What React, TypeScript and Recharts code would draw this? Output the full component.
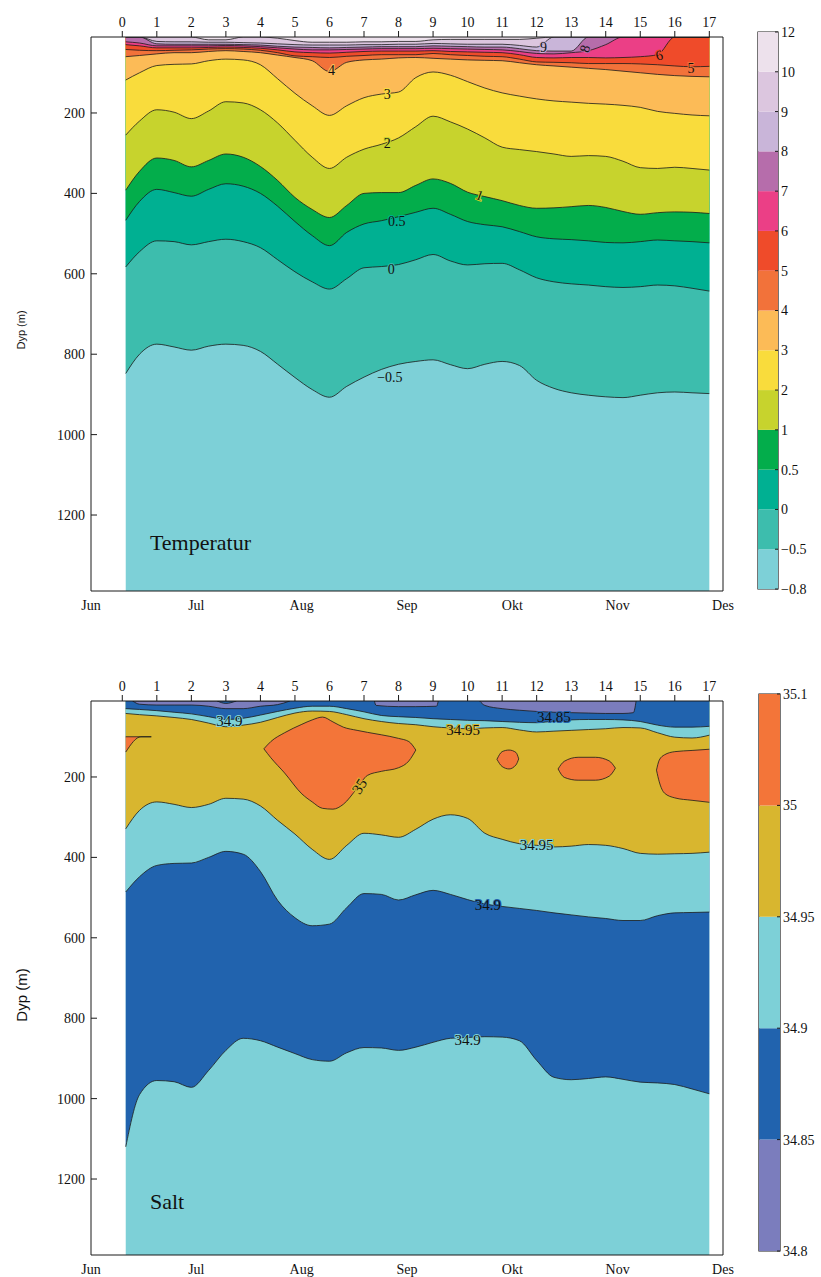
import React from 'react';
import {
  ComposedChart,
  Area,
  XAxis,
  YAxis,
  ReferenceDot,
  ReferenceArea,
  BarChart,
  Bar,
} from 'recharts';

const FONT = '"Liberation Serif", "Times New Roman", Times, serif';
const SANS = '"Liberation Sans", Arial, sans-serif';
const INK = '#1a1a1a';

// stations along the section (top axis) and month labels (bottom axis)
const stations = [
  0.1, 0.5, 1, 1.5, 2, 2.5, 3, 3.5, 4, 4.5, 5, 5.5, 6, 6.5, 7, 7.5, 8, 8.5,
  9, 9.5, 10, 10.5, 11, 11.5, 12, 12.5, 13, 13.5, 14, 14.5, 15, 15.5, 16, 16.5, 17,
];
const stationTicks = [0, 1, 2, 3, 4, 5, 6, 7, 8, 9, 10, 11, 12, 13, 14, 15, 16, 17];
const months = ['Jun', 'Jul', 'Aug', 'Sep', 'Okt', 'Nov', 'Des'];
const depthTicks = [200, 400, 600, 800, 1000, 1200];

const X_DOMAIN: [number, number] = [-0.906, 17.396];
const Y_DOMAIN: [number, number] = [11, 1389];
const monthTicks = months.map((_, i) => X_DOMAIN[0] + (i * (X_DOMAIN[1] - X_DOMAIN[0])) / 6);

// ---------- temperature: isotherm depths (m) per station, 11 = at surface ----------
const tM05 = [848, 800, 775, 782, 790, 780, 775, 778, 793, 825, 858, 888, 907, 880, 857, 838, 825, 818, 814, 826, 836, 825, 818, 828, 865, 885, 896, 902, 906, 908, 902, 896, 894, 896, 898];
const t0 = [583, 545, 518, 520, 528, 520, 514, 520, 535, 565, 595, 620, 638, 612, 585, 582, 577, 565, 552, 568, 578, 575, 574, 590, 610, 620, 625, 628, 632, 634, 632, 628, 630, 636, 643];
const t05 = [467, 420, 390, 398, 407, 390, 376, 382, 400, 432, 470, 505, 530, 497, 476, 468, 458, 447, 437, 452, 470, 478, 483, 495, 508, 513, 515, 518, 522, 523, 520, 516, 518, 520, 523];
const t1 = [392, 345, 312, 318, 334, 318, 302, 310, 333, 368, 410, 440, 460, 430, 400, 398, 398, 380, 364, 375, 397, 408, 418, 430, 437, 436, 433, 430, 435, 445, 452, 448, 446, 447, 450];
const t2 = [255, 220, 192, 198, 214, 195, 172, 175, 192, 225, 268, 310, 338, 310, 290, 278, 262, 234, 208, 222, 240, 262, 285, 291, 296, 302, 308, 306, 308, 320, 336, 338, 335, 338, 342];
const t3 = [118, 100, 82, 79, 78, 70, 66, 68, 80, 115, 151, 182, 206, 182, 162, 153, 148, 112, 98, 106, 122, 138, 150, 158, 165, 170, 173, 176, 178, 181, 186, 196, 201, 205, 207];
const t4 = [60, 57, 53, 50, 50, 47, 45, 47, 50, 56, 62, 70, 97, 74, 68, 66, 63, 62, 64, 66, 68, 69, 70, 75, 80, 83, 86, 89, 92, 96, 100, 104, 107, 109, 110];
const t5 = [42, 44, 45, 44, 43, 41, 40, 41, 44, 50, 58, 60, 62, 59, 57, 55, 55, 55, 52, 55, 57, 59, 60, 66, 73, 74, 75, 77, 77, 77, 78, 80, 83, 85, 84];
const t6 = [30, 33, 38, 38, 38, 37, 36, 37, 39, 43, 48, 50, 51, 49, 47, 46, 46, 46, 45, 47, 48, 49, 50, 55, 62, 63, 62, 62, 63, 62, 60, 55, 11, 11, 11];
const t7 = [23, 26, 33, 33, 33, 33, 32, 33, 35, 38, 41, 43, 43, 42, 41, 40, 40, 40, 39, 40, 41, 42, 43, 47, 52, 53, 50, 45, 30, 11, 11, 11, 11, 11, 11];
const t8 = [11, 11, 28, 29, 29, 29, 29, 30, 31, 34, 36, 37, 38, 37, 36, 35, 35, 35, 33, 34, 35, 36, 36, 40, 45, 46, 46, 11, 11, 11, 11, 11, 11, 11, 11];
const t9 = [11, 11, 22, 23, 23, 24, 24, 25, 26, 28, 30, 31, 31, 31, 30, 30, 29, 29, 27, 28, 29, 29, 29, 32, 36, 11, 11, 11, 11, 11, 11, 11, 11, 11, 11];
const t10 = [11, 11, 11, 11, 11, 18, 18, 11, 11, 14, 20, 24, 24, 24, 23, 23, 22, 22, 18, 17, 17, 17, 17, 17, 14, 11, 11, 11, 11, 11, 11, 11, 11, 11, 11];

const tempLevels = ['\u22120.8', '\u22120.5', '0', '0.5', '1', '2', '3', '4', '5', '6', '7', '8', '9', '10', '12'];
// band colours from coldest to warmest
const tempColors = [
  '#7dd0d7', '#3dbdad', '#00b092', '#03ad4b', '#c7d32d', '#f9dc3c', '#fcbb57',
  '#f2723a', '#ef4b2a', '#eb3f86', '#b66dab', '#c9b5d9', '#dcc6df', '#ede1ec',
];

// ---------- salinity: isohaline depths (m) per station ----------
const sDeep349 = [1120, 990, 955, 958, 972, 930, 880, 850, 856, 872, 888, 903, 907, 886, 873, 874, 880, 872, 860, 850, 848, 846, 847, 856, 905, 947, 953, 950, 946, 952, 959, 961, 965, 976, 988];
const sMid349 = [486, 448, 420, 415, 414, 400, 385, 392, 435, 507, 550, 570, 566, 525, 490, 492, 506, 493, 482, 492, 505, 516, 522, 527, 532, 538, 543, 548, 552, 557, 557, 545, 538, 537, 536];
const sLow3495 = [329, 283, 262, 268, 276, 268, 253, 255, 272, 308, 342, 380, 405, 370, 340, 344, 350, 330, 305, 294, 303, 340, 355, 366, 370, 374, 372, 368, 370, 378, 390, 392, 391, 390, 387];
const sUp3495 = [42, 45, 48, 52, 57, 66, 75, 71, 64, 52, 41, 36, 37, 45, 55, 62, 67, 70, 75, 78, 80, 78, 77, 83, 88, 86, 84, 82, 80, 77, 78, 90, 101, 103, 96];
const sUp349 = [30, 32, 35, 39, 43, 50, 57, 54, 46, 37, 29, 24, 24, 30, 38, 47, 50, 52, 55, 57, 59, 60, 62, 64, 65, 61, 58, 57, 57, 58, 62, 71, 76, 76, 74];

// closed 35 contours: [top, bottom] depth per station
const salt35Left = [
  { st: 0.1, d: [100, 138] }, { st: 0.54, d: [100, 100] }, { st: 0.84, d: [100, 100] },
];
const salt35Big = [
  { st: 4.1, d: [130, 130] }, { st: 4.3, d: [112, 152] }, { st: 4.7, d: [90, 190] },
  { st: 5.2, d: [69, 242] }, { st: 5.5, d: [58, 262] }, { st: 5.8, d: [51, 278] },
  { st: 6.1, d: [63, 280] }, { st: 6.4, d: [76, 268] }, { st: 6.8, d: [84, 228] },
  { st: 7.1, d: [89, 196] }, { st: 7.5, d: [95, 186] }, { st: 8.0, d: [104, 177] },
  { st: 8.3, d: [112, 160] }, { st: 8.5, d: [133, 133] },
];
const salt35Small = [
  { st: 10.85, d: [156, 156] }, { st: 11.0, d: [137, 174] }, { st: 11.2, d: [133, 180] },
  { st: 11.4, d: [139, 170] }, { st: 11.48, d: [155, 155] },
];
const salt35Oval = [
  { st: 12.62, d: [180, 180] }, { st: 12.8, d: [161, 201] }, { st: 13.2, d: [151, 208] },
  { st: 13.7, d: [151, 208] }, { st: 14.1, d: [160, 198] }, { st: 14.28, d: [178, 178] },
];
const salt35Right = [
  { st: 15.47, d: [183, 183] }, { st: 15.55, d: [158, 212] }, { st: 15.7, d: [145, 240] },
  { st: 16.0, d: [137, 252] }, { st: 16.5, d: [134, 258] }, { st: 17.0, d: [131, 263] },
];
// fresher surface patches (34.85 contours)
const salt3485A = [
  { st: 0.3, d: [11, 11] }, { st: 0.5, d: [11, 19] }, { st: 1.0, d: [11, 21] },
  { st: 1.5, d: [11, 21] }, { st: 2.0, d: [11, 21] }, { st: 2.5, d: [11, 24] },
  { st: 3.0, d: [11, 30] }, { st: 3.5, d: [11, 30] }, { st: 4.0, d: [11, 24] },
  { st: 4.5, d: [11, 20] }, { st: 4.85, d: [11, 11] },
];
const salt3485B = [
  { st: 7.3, d: [11, 11] }, { st: 7.35, d: [11, 22] }, { st: 8.0, d: [11, 25] },
  { st: 8.5, d: [11, 25] }, { st: 9.1, d: [11, 24] }, { st: 9.15, d: [11, 11] },
];
const salt3485C = [
  { st: 10.35, d: [11, 11] }, { st: 10.5, d: [11, 22] }, { st: 11.0, d: [11, 30] },
  { st: 11.5, d: [11, 34] }, { st: 12.0, d: [11, 37] }, { st: 12.5, d: [11, 39] },
  { st: 13.0, d: [11, 40] }, { st: 13.5, d: [11, 41] }, { st: 14.0, d: [11, 42] },
  { st: 14.5, d: [11, 42] }, { st: 14.8, d: [11, 40] }, { st: 14.88, d: [11, 11] },
];
const salt3485Hole = [
  { st: 2.75, d: [11, 11] }, { st: 3.0, d: [11, 17] }, { st: 3.3, d: [11, 11] },
];

const saltLevels = ['34.8', '34.85', '34.9', '34.95', '35', '35.1'];
const saltColors = ['#7b7dbd', '#2163ae', '#7dd0d7', '#d8b62f', '#f37539'];

type Layer = { key: string; fill: string };
type Blob = { data: { st: number; d: number[] }[]; fill: string };
type Tag = { st: number; d: number; text: string; halo: string; angle?: number };

const tempTable = stations.map((st, i) => ({
  st,
  bottom: Y_DOMAIN[1],
  tM05: tM05[i], t0: t0[i], t05: t05[i], t1: t1[i], t2: t2[i], t3: t3[i], t4: t4[i],
  t5: t5[i], t6: t6[i], t7: t7[i], t8: t8[i], t9: t9[i], t10: t10[i],
}));

const saltTable = stations.map((st, i) => ({
  st,
  bottom: Y_DOMAIN[1],
  sDeep349: sDeep349[i], sMid349: sMid349[i], sLow3495: sLow3495[i],
  sUp3495: sUp3495[i], sUp349: sUp349[i],
}));

// deepest isoline first, each area paints from the surface down to its line
const tempLayers: Layer[] = [
  { key: 'tM05', fill: tempColors[1] }, { key: 't0', fill: tempColors[2] },
  { key: 't05', fill: tempColors[3] }, { key: 't1', fill: tempColors[4] },
  { key: 't2', fill: tempColors[5] }, { key: 't3', fill: tempColors[6] },
  { key: 't4', fill: tempColors[7] }, { key: 't5', fill: tempColors[8] },
  { key: 't6', fill: tempColors[9] }, { key: 't7', fill: tempColors[10] },
  { key: 't8', fill: tempColors[11] }, { key: 't9', fill: tempColors[12] },
  { key: 't10', fill: tempColors[13] },
];

const saltLayers: Layer[] = [
  { key: 'sDeep349', fill: saltColors[1] }, { key: 'sMid349', fill: saltColors[2] },
  { key: 'sLow3495', fill: saltColors[3] }, { key: 'sUp3495', fill: saltColors[2] },
  { key: 'sUp349', fill: saltColors[1] },
];

const saltBlobs: Blob[] = [
  { data: salt35Left, fill: saltColors[4] }, { data: salt35Big, fill: saltColors[4] },
  { data: salt35Small, fill: saltColors[4] }, { data: salt35Oval, fill: saltColors[4] },
  { data: salt35Right, fill: saltColors[4] }, { data: salt3485A, fill: saltColors[0] },
  { data: salt3485B, fill: saltColors[0] }, { data: salt3485C, fill: saltColors[0] },
  { data: salt3485Hole, fill: saltColors[1] },
];

const tempTags: Tag[] = [
  { st: 6.06, d: 95, text: '4', halo: tempColors[6] },
  { st: 7.67, d: 153, text: '3', halo: tempColors[5] },
  { st: 7.67, d: 277, text: '2', halo: tempColors[4] },
  { st: 10.35, d: 405, text: '1', halo: tempColors[4], angle: 20 },
  { st: 7.95, d: 470, text: '0.5', halo: tempColors[2] },
  { st: 7.79, d: 590, text: '0', halo: tempColors[1] },
  { st: 7.75, d: 857, text: '\u22120.5', halo: tempColors[0] },
  { st: 12.2, d: 37, text: '9', halo: tempColors[11] },
  { st: 13.4, d: 40, text: '8', halo: tempColors[10], angle: -75 },
  { st: 15.55, d: 57, text: '6', halo: tempColors[8], angle: -15 },
  { st: 16.47, d: 89, text: '5', halo: tempColors[7] },
];

const saltTags: Tag[] = [
  { st: 3.1, d: 61, text: '34.9', halo: saltColors[2] },
  { st: 9.87, d: 82, text: '34.95', halo: saltColors[3] },
  { st: 12.5, d: 50, text: '34.85', halo: saltColors[1] },
  { st: 6.87, d: 223, text: '35', halo: saltColors[3], angle: -58 },
  { st: 12.0, d: 370, text: '34.95', halo: saltColors[2] },
  { st: 10.59, d: 519, text: '34.9', halo: saltColors[1] },
  { st: 10.0, d: 854, text: '34.9', halo: saltColors[2] },
];

const axisLine = { stroke: INK, strokeWidth: 1 };
const tickText = { fontSize: 14, fontFamily: FONT, fill: '#111' };

const contourLabel = (tag: Tag, size: number) => (props: any) => {
  const vb = props.viewBox || {};
  const x = (vb.x ?? 0) + (vb.width ?? 0) / 2;
  const y = (vb.y ?? 0) + (vb.height ?? 0) / 2;
  return (
    <text
      x={x}
      y={y}
      textAnchor="middle"
      dominantBaseline="central"
      transform={tag.angle ? `rotate(${tag.angle} ${x} ${y})` : undefined}
      fontFamily={FONT}
      fontSize={size}
      fill="#111"
      stroke={tag.halo}
      strokeWidth={2}
      paintOrder="stroke"
    >
      {tag.text}
    </text>
  );
};

const titleLabel = (text: string) => (props: any) => {
  const vb = props.viewBox || {};
  return (
    <text x={vb.x ?? 0} y={vb.y ?? 0} fontFamily={FONT} fontSize={22} fill="#111">
      {text}
    </text>
  );
};

interface SectionProps {
  top: number;
  table: any[];
  background: string;
  layers: Layer[];
  blobs: Blob[];
  tags: Tag[];
  tagSize: number;
  title: string;
  titleDepth: number;
}

const Section = ({ top, table, background, layers, blobs, tags, tagSize, title, titleDepth }: SectionProps) => (
  <div style={{ position: 'absolute', left: 0, top }}>
    <ComposedChart width={745} height={620} data={table} margin={{ top: 0, right: 15, bottom: 0, left: 0 }}>
      <XAxis
        xAxisId="st"
        dataKey="st"
        type="number"
        orientation="top"
        domain={X_DOMAIN}
        ticks={stationTicks}
        interval={0}
        height={37}
        tickSize={6}
        tickMargin={4}
        axisLine={axisLine}
        tickLine={axisLine}
        tick={tickText}
        allowDataOverflow
      />
      <XAxis
        xAxisId="mon"
        dataKey="st"
        type="number"
        orientation="bottom"
        domain={X_DOMAIN}
        ticks={monthTicks}
        interval={0}
        height={29}
        tickSize={0}
        tickMargin={9}
        tickFormatter={(_v: number, i: number) => months[i]}
        axisLine={axisLine}
        tickLine={false}
        tick={tickText}
        allowDataOverflow
      />
      <YAxis
        yAxisId="d"
        type="number"
        domain={Y_DOMAIN}
        reversed
        ticks={depthTicks}
        interval={0}
        width={91}
        tickSize={-6}
        tickMargin={12}
        axisLine={axisLine}
        tickLine={axisLine}
        tick={tickText}
        allowDataOverflow
      />
      <YAxis
        yAxisId="r"
        orientation="right"
        type="number"
        domain={Y_DOMAIN}
        reversed
        ticks={depthTicks}
        interval={0}
        width={7}
        tickSize={-6}
        tick={false}
        axisLine={axisLine}
        tickLine={axisLine}
        allowDataOverflow
      />

      {/* deepest band fills the whole section */}
      <Area
        xAxisId="st"
        yAxisId="d"
        dataKey="bottom"
        type="linear"
        baseValue={Y_DOMAIN[0]}
        fill={background}
        fillOpacity={1}
        stroke="none"
        dot={false}
        activeDot={false}
        isAnimationActive={false}
      />
      {layers.map((l) => (
        <Area
          key={l.key}
          xAxisId="st"
          yAxisId="d"
          dataKey={l.key}
          type="monotone"
          baseValue={Y_DOMAIN[0]}
          fill={l.fill}
          fillOpacity={1}
          stroke={INK}
          strokeWidth={0.8}
          dot={false}
          activeDot={false}
          isAnimationActive={false}
        />
      ))}
      {blobs.map((b, i) => (
        <Area
          key={`blob-${i}`}
          data={b.data}
          xAxisId="st"
          yAxisId="d"
          dataKey="d"
          type="monotone"
          fill={b.fill}
          fillOpacity={1}
          stroke={INK}
          strokeWidth={0.8}
          dot={false}
          activeDot={false}
          isAnimationActive={false}
        />
      ))}
      {tags.map((t, i) => (
        <ReferenceDot
          key={`tag-${i}`}
          xAxisId="st"
          yAxisId="d"
          x={t.st}
          y={t.d}
          r={0}
          fill="none"
          stroke="none"
          label={{ content: contourLabel(t, tagSize) }}
        />
      ))}
      <ReferenceDot
        xAxisId="st"
        yAxisId="d"
        x={0.8}
        y={titleDepth}
        r={0}
        fill="none"
        stroke="none"
        label={{ content: titleLabel(title) }}
      />
    </ComposedChart>
  </div>
);

interface ColorbarProps {
  left: number;
  top: number;
  height: number;
  marginTop: number;
  marginBottom: number;
  leftWidth: number;
  rightWidth: number;
  colors: string[];
  levels: string[];
}

const Colorbar = ({ left, top, height, marginTop, marginBottom, leftWidth, rightWidth, colors, levels }: ColorbarProps) => {
  const row: Record<string, any> = { name: 'bar' };
  colors.forEach((_, i) => {
    row[`b${i}`] = 1;
  });
  const idx = levels.map((_, i) => i);
  return (
    <div style={{ position: 'absolute', left, top }}>
      <BarChart
        width={81}
        height={height}
        data={[row]}
        margin={{ top: marginTop, right: 0, bottom: marginBottom, left: 0 }}
        barCategoryGap={0}
        barGap={0}
      >
        <XAxis dataKey="name" type="category" hide />
        <YAxis
          yAxisId="l"
          orientation="left"
          type="number"
          domain={[0, colors.length]}
          ticks={idx}
          interval={0}
          width={leftWidth}
          tickSize={-3}
          tick={false}
          axisLine={false}
          tickLine={axisLine}
        />
        <YAxis
          yAxisId="r"
          orientation="right"
          type="number"
          domain={[0, colors.length]}
          ticks={idx}
          interval={0}
          width={rightWidth}
          tickSize={-3}
          tickMargin={6}
          tickFormatter={(v: number) => levels[v]}
          axisLine={false}
          tickLine={axisLine}
          tick={tickText}
        />
        {colors.map((c, i) => (
          <Bar key={c + i} yAxisId="r" dataKey={`b${i}`} stackId="cb" fill={c} isAnimationActive={false} />
        ))}
        <ReferenceArea yAxisId="r" y1={0} y2={colors.length} fill="none" stroke={INK} strokeWidth={1.2} />
      </BarChart>
    </div>
  );
};

const axisTitle = (text: string, cx: number, cy: number, size: number) => (
  <div
    style={{
      position: 'absolute',
      left: cx - 60,
      top: cy - 10,
      width: 120,
      height: 20,
      lineHeight: '20px',
      textAlign: 'center',
      transform: 'rotate(-90deg)',
      fontFamily: SANS,
      fontSize: size,
      color: '#111',
    }}
  >
    {text}
  </div>
);

export default function App() {
  return (
    <div
      style={{
        position: 'absolute',
        left: 0,
        top: 0,
        width: 821,
        height: 1277,
        background: '#fff',
        overflow: 'hidden',
      }}
    >
      <Section
        top={0}
        table={tempTable}
        background={tempColors[0]}
        layers={tempLayers}
        blobs={[]}
        tags={tempTags}
        tagSize={14}
        title="Temperatur"
        titleDepth={1288}
      />
      <Section
        top={664}
        table={saltTable}
        background={saltColors[2]}
        layers={saltLayers}
        blobs={saltBlobs}
        tags={saltTags}
        tagSize={15}
        title="Salt"
        titleDepth={1274}
      />
      {axisTitle('Dyp (m)', 21, 330, 11)}
      {axisTitle('Dyp (m)', 22, 995, 15)}
      <Colorbar
        left={740}
        top={20}
        height={585}
        marginTop={12}
        marginBottom={16}
        leftWidth={18}
        rightWidth={43}
        colors={tempColors}
        levels={tempLevels}
      />
      <Colorbar
        left={740}
        top={684}
        height={579}
        marginTop={10}
        marginBottom={12}
        leftWidth={19}
        rightWidth={41}
        colors={saltColors}
        levels={saltLevels}
      />
    </div>
  );
}
